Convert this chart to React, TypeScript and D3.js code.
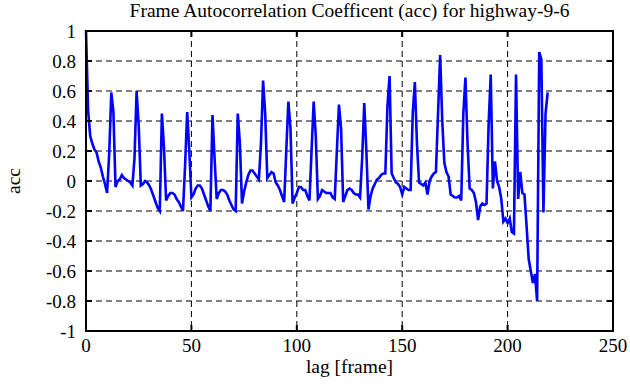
import { useEffect, useRef } from 'react';
import * as d3 from 'd3';

// acc values for lag 0..219 (one row = 12 lags)
const accValues: number[] = [
  1.0, 0.47, 0.3, 0.25, 0.21, 0.19, 0.13, 0.09, 0.03, -0.02, -0.08, 0.18,
  0.59, 0.46, -0.04, 0.0, 0.01, 0.04, 0.02, 0.01, 0.0, -0.01, -0.03, 0.15,
  0.6, 0.37, -0.03, -0.02, 0.0, -0.01, -0.03, -0.06, -0.1, -0.14, -0.18, -0.2,
  0.45, 0.22, -0.13, -0.1, -0.08, -0.08, -0.09, -0.12, -0.14, -0.17, -0.2, 0.1,
  0.46, 0.2, -0.11, -0.09, -0.05, -0.03, -0.03, -0.05, -0.09, -0.13, -0.17, -0.2,
  0.44, 0.15, -0.12, -0.08, -0.06, -0.06, -0.07, -0.09, -0.13, -0.16, -0.19, -0.2,
  0.45, 0.25, -0.15, -0.07, -0.01, 0.04, 0.07, 0.07, 0.05, 0.03, 0.01, 0.25,
  0.67, 0.45, 0.02, 0.04, 0.06, 0.05, -0.01, -0.03, -0.06, -0.1, -0.14, 0.2,
  0.53, 0.35, -0.15, -0.11, -0.08, -0.04, -0.04, -0.06, -0.06, -0.1, -0.13, 0.2,
  0.53, 0.3, -0.12, -0.1, -0.06, -0.07, -0.08, -0.08, -0.08, -0.11, -0.12, 0.2,
  0.51, 0.35, -0.14, -0.1, -0.06, -0.05, -0.06, -0.08, -0.09, -0.09, -0.11, 0.15,
  0.52, 0.2, -0.19, -0.1, -0.05, -0.02, 0.01, 0.02, 0.04, 0.05, 0.05, 0.5,
  0.7, 0.05, 0.02, -0.01, -0.02, -0.04, -0.09, -0.04, -0.05, -0.06, -0.06, 0.45,
  0.66, 0.25, -0.01, -0.02, -0.03, -0.01, -0.09, 0.0, 0.03, 0.05, 0.06, 0.45,
  0.84, 0.4, 0.12, 0.06, 0.03, -0.09, -0.1, -0.11, -0.11, -0.1, -0.13, 0.45,
  0.69, 0.25, -0.05, -0.06, -0.08, -0.14, -0.26, -0.17, -0.15, -0.16, -0.15, 0.38,
  0.71, -0.05, 0.13, 0.0, -0.04, -0.12, -0.27, -0.25, -0.28, -0.25, -0.34, -0.35,
  0.71, -0.12, 0.06, -0.08, -0.09, -0.3, -0.52, -0.6, -0.68, -0.62, -0.8, 0.86,
  0.81, -0.21, 0.45, 0.59,
];

const xTicks = [0, 50, 100, 150, 200, 250];
const yTicks = [-1, -0.8, -0.6, -0.4, -0.2, 0, 0.2, 0.4, 0.6, 0.8, 1];

const titleText = 'Frame Autocorrelation Coefficent (acc) for highway-9-6';
const xLabel = 'lag [frame]';
const yLabel = 'acc';

export default function App() {
  const svgRef = useRef<SVGSVGElement>(null);

  useEffect(() => {
    if (!svgRef.current) return;
    const svg = d3.select(svgRef.current);
    svg.selectAll('*').remove();

    const W = 630;
    const H = 387;
    const margin = { top: 31, right: 17, bottom: 56, left: 86 };
    const width = W - margin.left - margin.right;
    const height = H - margin.top - margin.bottom;
    const font = '"Liberation Serif", "Times New Roman", serif';

    const x = d3.scaleLinear().domain([0, 250]).range([0, width]);
    const y = d3.scaleLinear().domain([-1, 1]).range([height, 0]);

    svg.append('rect').attr('width', W).attr('height', H).attr('fill', '#fff');

    const g = svg.append('g').attr('transform', `translate(${margin.left},${margin.top})`);

    // dashed grid
    g.selectAll('.gx')
      .data(xTicks)
      .enter()
      .append('line')
      .attr('x1', (d) => x(d))
      .attr('x2', (d) => x(d))
      .attr('y1', 0)
      .attr('y2', height)
      .attr('stroke', '#000')
      .attr('stroke-width', 1)
      .attr('stroke-dasharray', '6,4');

    g.selectAll('.gy')
      .data(yTicks)
      .enter()
      .append('line')
      .attr('x1', 0)
      .attr('x2', width)
      .attr('y1', (d) => y(d))
      .attr('y2', (d) => y(d))
      .attr('stroke', '#000')
      .attr('stroke-width', 1)
      .attr('stroke-dasharray', '6,4');

    // data line
    const line = d3
      .line<number>()
      .x((_, i) => x(i))
      .y((d) => y(d));

    g.append('path')
      .datum(accValues)
      .attr('d', line)
      .attr('fill', 'none')
      .attr('stroke', '#0000ff')
      .attr('stroke-width', 2.6)
      .attr('stroke-linejoin', 'miter');

    // frame
    g.append('rect')
      .attr('width', width)
      .attr('height', height)
      .attr('fill', 'none')
      .attr('stroke', '#000')
      .attr('stroke-width', 2);

    // inside ticks
    const tickLen = 6;
    xTicks.forEach((t) => {
      g.append('line').attr('x1', x(t)).attr('x2', x(t)).attr('y1', 0).attr('y2', tickLen)
        .attr('stroke', '#000').attr('stroke-width', 2);
      g.append('line').attr('x1', x(t)).attr('x2', x(t)).attr('y1', height).attr('y2', height - tickLen)
        .attr('stroke', '#000').attr('stroke-width', 2);
    });
    yTicks.forEach((t) => {
      g.append('line').attr('x1', 0).attr('x2', tickLen).attr('y1', y(t)).attr('y2', y(t))
        .attr('stroke', '#000').attr('stroke-width', 2);
      g.append('line').attr('x1', width).attr('x2', width - tickLen).attr('y1', y(t)).attr('y2', y(t))
        .attr('stroke', '#000').attr('stroke-width', 2);
    });

    // tick labels
    g.selectAll('.xl')
      .data(xTicks)
      .enter()
      .append('text')
      .attr('x', (d) => x(d))
      .attr('y', height + 21)
      .attr('text-anchor', 'middle')
      .attr('font-family', font)
      .attr('font-size', 19)
      .text((d) => String(d));

    g.selectAll('.yl')
      .data(yTicks)
      .enter()
      .append('text')
      .attr('x', -10)
      .attr('y', (d) => y(d))
      .attr('dy', '0.35em')
      .attr('text-anchor', 'end')
      .attr('font-family', font)
      .attr('font-size', 19)
      .text((d) => String(d));

    // titles
    svg.append('text')
      .attr('x', margin.left + width / 2)
      .attr('y', 17)
      .attr('text-anchor', 'middle')
      .attr('font-family', font)
      .attr('font-size', 19.5)
      .text(titleText);

    svg.append('text')
      .attr('x', margin.left + width / 2)
      .attr('y', 373)
      .attr('text-anchor', 'middle')
      .attr('font-family', font)
      .attr('font-size', 19.5)
      .text(xLabel);

    svg.append('text')
      .attr('transform', `translate(20,${margin.top + height / 2}) rotate(-90)`)
      .attr('text-anchor', 'middle')
      .attr('font-family', font)
      .attr('font-size', 19.5)
      .text(yLabel);
  }, []);

  return (
    <svg
      ref={svgRef}
      width={630}
      height={387}
      style={{ position: 'absolute', left: 0, top: 0, display: 'block' }}
    />
  );
}
